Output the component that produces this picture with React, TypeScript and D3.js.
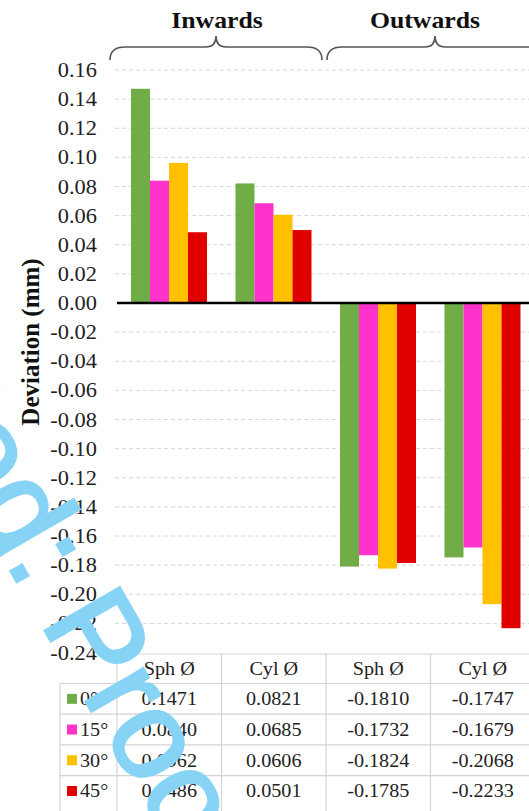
import React, { useEffect, useRef } from "react";
import * as d3 from "d3";

const categories = ["Inwards Sph", "Inwards Cyl", "Outwards Sph", "Outwards Cyl"];
const columnLabels = ["Sph Ø", "Cyl Ø", "Sph Ø", "Cyl Ø"];
const groupLabels = ["Inwards", "Outwards"];
const angles = ["0°", "15°", "30°", "45°"];
const colors = ["#70ad47", "#ff33cc", "#ffc000", "#e00000"];

// one array per angle, ordered like categories
const values0 = [0.1471, 0.0821, -0.181, -0.1747];
const values15 = [0.084, 0.0685, -0.1732, -0.1679];
const values30 = [0.0962, 0.0606, -0.1824, -0.2068];
const values45 = [0.0486, 0.0501, -0.1785, -0.2233];
const series = [values0, values15, values30, values45];

const yTicks = [
  0.16, 0.14, 0.12, 0.1, 0.08, 0.06, 0.04, 0.02, 0, -0.02, -0.04, -0.06,
  -0.08, -0.1, -0.12, -0.14, -0.16, -0.18, -0.2, -0.22, -0.24,
];

const WIDTH = 529;
const HEIGHT = 811;
const SERIF = "'Liberation Serif', 'Times New Roman', serif";
const STRETCH = 1.12; // the source text is a bit wider than Times

const App = () => {
  const svgRef = useRef(null);

  useEffect(() => {
    const svg = d3.select(svgRef.current);
    svg.selectAll("*").remove();

    const xScale = d3.scaleBand().domain(categories).range([117, 535]);
    const inner = d3.scaleBand().domain(angles).range([14, 90]);
    const yScale = d3.scaleLinear().domain([-0.24, 0.16]).range([652.5, 70]);

    // gridlines
    svg
      .append("g")
      .selectAll("line")
      .data(yTicks.filter((d) => d !== 0 && d !== -0.24))
      .join("line")
      .attr("x1", 115)
      .attr("x2", WIDTH)
      .attr("y1", (d) => yScale(d))
      .attr("y2", (d) => yScale(d))
      .attr("stroke", "#d6d6d6")
      .attr("stroke-width", 1)
      .attr("stroke-dasharray", "4,3");

    // tick labels
    svg
      .append("g")
      .selectAll("text")
      .data(yTicks)
      .join("text")
      .attr("transform", (d) => `translate(97,${yScale(d)}) scale(${STRETCH},1)`)
      .attr("dy", "0.35em")
      .attr("text-anchor", "end")
      .attr("font-family", SERIF)
      .attr("font-size", 20)
      .attr("fill", "#222")
      .text((d) => d.toFixed(2));

    // bars
    series.forEach((vals, i) => {
      svg
        .append("g")
        .selectAll("rect")
        .data(vals)
        .join("rect")
        .attr("x", (d, j) => xScale(categories[j]) + inner(angles[i]))
        .attr("width", inner.bandwidth())
        .attr("y", (d) => yScale(Math.max(0, d)))
        .attr("height", (d) => Math.abs(yScale(d) - yScale(0)))
        .attr("fill", colors[i]);
    });

    // zero line
    svg
      .append("line")
      .attr("x1", 117)
      .attr("x2", WIDTH)
      .attr("y1", yScale(0))
      .attr("y2", yScale(0))
      .attr("stroke", "#000")
      .attr("stroke-width", 2.5);

    // y label
    svg
      .append("text")
      .attr("transform", "translate(39,342) rotate(-90)")
      .attr("text-anchor", "middle")
      .attr("font-family", SERIF)
      .attr("font-weight", "bold")
      .attr("font-size", 25)
      .attr("fill", "#111")
      .text("Deviation (mm)");

    // braces + group titles
    const brace = (x1, x2) => {
      const mid = (x1 + x2) / 2;
      return `M${x1},60 Q${x1},47 ${x1 + 15},47 L${mid - 10},47 Q${mid},47 ${mid},36 Q${mid},47 ${mid + 10},47 L${x2 - 15},47 Q${x2},47 ${x2},60`;
    };
    const braceSpans = [
      [xScale(categories[0]) - 7, xScale(categories[1]) + xScale.bandwidth() - 4],
      [xScale(categories[2]) + 1, xScale(categories[3]) + xScale.bandwidth() + 8],
    ];
    svg
      .append("g")
      .selectAll("path")
      .data(braceSpans)
      .join("path")
      .attr("d", (d) => brace(d[0], d[1]))
      .attr("fill", "none")
      .attr("stroke", "#555")
      .attr("stroke-width", 1.6);
    svg
      .append("g")
      .selectAll("text")
      .data(groupLabels)
      .join("text")
      .attr("transform", (d, i) => `translate(${i === 0 ? 217 : 425},28) scale(${STRETCH},1)`)
      .attr("text-anchor", "middle")
      .attr("font-family", SERIF)
      .attr("font-weight", "bold")
      .attr("font-size", 23)
      .attr("fill", "#111")
      .text((d) => d);

    // data table
    const headTop = 654;
    const rowH = 30.7;
    const rowTop = (i) => 683.5 + i * rowH;
    const lineColor = "#d4d4d4";
    const table = svg.append("g");
    table
      .append("line")
      .attr("x1", 117)
      .attr("x2", WIDTH)
      .attr("y1", headTop)
      .attr("y2", headTop)
      .attr("stroke", lineColor)
      .attr("stroke-width", 1.2);
    table
      .selectAll(".hrow")
      .data(angles)
      .join("line")
      .attr("class", "hrow")
      .attr("x1", 60)
      .attr("x2", WIDTH)
      .attr("y1", (d, i) => rowTop(i))
      .attr("y2", (d, i) => rowTop(i))
      .attr("stroke", lineColor)
      .attr("stroke-width", 1.2);
    table
      .append("line")
      .attr("x1", 60)
      .attr("x2", 60)
      .attr("y1", rowTop(0))
      .attr("y2", HEIGHT)
      .attr("stroke", lineColor)
      .attr("stroke-width", 1.2);
    table
      .selectAll(".vcol")
      .data(categories)
      .join("line")
      .attr("class", "vcol")
      .attr("x1", (d) => xScale(d))
      .attr("x2", (d) => xScale(d))
      .attr("y1", headTop)
      .attr("y2", HEIGHT)
      .attr("stroke", lineColor)
      .attr("stroke-width", 1.2);
    table
      .selectAll(".head")
      .data(categories)
      .join("text")
      .attr("class", "head")
      .attr(
        "transform",
        (d) => `translate(${xScale(d) + xScale.bandwidth() / 2},${headTop + 15}) scale(${STRETCH},1)`
      )
      .attr("dy", "0.35em")
      .attr("text-anchor", "middle")
      .attr("font-family", SERIF)
      .attr("font-size", 18)
      .attr("fill", "#222")
      .text((d, i) => columnLabels[i]);

    series.forEach((vals, i) => {
      const cy = rowTop(i) + rowH / 2;
      table
        .append("rect")
        .attr("x", 67)
        .attr("y", cy - 5)
        .attr("width", 10)
        .attr("height", 10)
        .attr("fill", colors[i]);
      table
        .append("text")
        .attr("transform", `translate(80,${cy}) scale(${STRETCH},1)`)
        .attr("dy", "0.35em")
        .attr("font-family", SERIF)
        .attr("font-size", 18)
        .attr("fill", "#222")
        .text(angles[i]);
      table
        .selectAll(null)
        .data(vals)
        .join("text")
        .attr(
          "transform",
          (d, j) => `translate(${xScale(categories[j]) + xScale.bandwidth() / 2},${cy}) scale(${STRETCH},1)`
        )
        .attr("dy", "0.35em")
        .attr("text-anchor", "middle")
        .attr("font-family", SERIF)
        .attr("font-size", 18)
        .attr("fill", "#222")
        .text((d) => d.toFixed(4));
    });

    // watermark
    const wm = svg
      .append("g")
      .attr("transform", "translate(40,622) rotate(60)")
      .attr("font-family", "'Liberation Sans', Arial, sans-serif")
      .attr("font-size", 125)
      .attr("fill", "#86d3f6")
      .attr("stroke", "#86d3f6")
      .attr("stroke-width", 3);
    wm.append("text").attr("x", 0).attr("y", 0).text("Proof");
    wm.append("text").attr("x", -35).attr("y", 0).attr("text-anchor", "end").text("Accepted:");
  }, []);

  return (
    <svg
      ref={svgRef}
      width={WIDTH}
      height={HEIGHT}
      style={{ position: "absolute", left: 0, top: 0, background: "#fff" }}
    ></svg>
  );
};

export default App;
